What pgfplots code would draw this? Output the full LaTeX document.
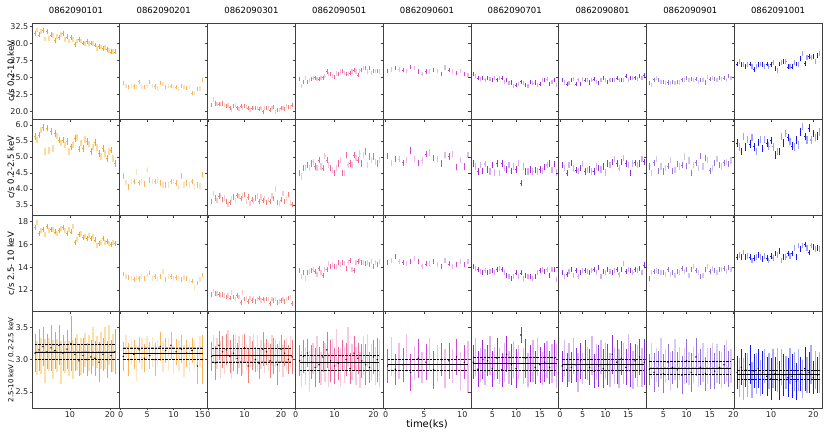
\documentclass[border=0pt]{standalone}
\usepackage{fontspec}
\setmainfont{DejaVu Sans}
\usepackage{pgfplots}
\usepackage{pgfplotstable}
\pgfplotsset{compat=1.18}

\definecolor{cA}{RGB}{255,165,0}
\definecolor{cB}{RGB}{250,180,90}
\definecolor{cC}{RGB}{240,128,120}
\definecolor{cD}{RGB}{240,100,160}
\definecolor{cE}{RGB}{210,70,210}
\definecolor{cF}{RGB}{165,40,220}
\definecolor{cG}{RGB}{140,50,225}
\definecolor{cH}{RGB}{147,112,219}
\definecolor{cI}{RGB}{20,20,255}

% vertical error bar of half-length = mark size, with a small horizontal tick
\pgfdeclareplotmark{eb}{%
  \pgfpathmoveto{\pgfqpoint{0pt}{-\pgfplotmarksize}}%
  \pgfpathlineto{\pgfqpoint{0pt}{\pgfplotmarksize}}%
  \pgfpathmoveto{\pgfqpoint{-0.7pt}{0pt}}%
  \pgfpathlineto{\pgfqpoint{0.7pt}{0pt}}%
  \pgfusepathqstroke}

% ---------------- data: t, rate 0.2-10, rate 0.2-2.5, rate 2.5-10, ratio, ratio error
\pgfplotstableread{
t r1 r2 r3 r4 e4
1.25 31.5 5.64 17.5 3.10 0.30
1.75 32.0 5.53 17.9 3.02 0.26
2.25 31.3 5.69 17.0 3.15 0.33
2.75 31.8 5.84 17.2 3.05 0.28
3.25 31.9 5.92 17.3 3.20 0.30
3.75 30.7 5.17 16.9 2.98 0.34
4.25 31.8 5.90 17.6 3.12 0.27
4.75 30.8 5.20 17.2 3.08 0.25
5.25 31.3 5.80 17.3 3.18 0.35
5.75 31.2 5.27 17.3 3.00 0.30
6.25 30.5 5.74 17.1 3.14 0.29
6.75 31.0 5.65 17.0 3.06 0.26
7.25 30.9 5.53 17.2 3.22 0.31
7.75 31.3 5.43 17.4 2.95 0.33
8.25 31.5 5.53 17.5 3.10 0.28
8.75 30.6 5.38 17.2 3.04 0.25
9.25 31.0 5.48 17.0 3.16 0.30
9.75 30.4 5.17 17.3 3.02 0.27
10.25 30.9 5.32 17.1 3.25 0.42
10.75 30.6 5.38 17.6 3.00 0.30
11.25 29.9 5.58 16.2 3.08 0.26
11.75 30.4 5.61 16.4 3.12 0.28
12.25 30.6 5.24 16.9 2.98 0.24
12.75 30.4 5.43 17.0 3.05 0.29
13.25 30.1 5.27 16.6 3.06 0.27
13.75 30.0 5.55 16.7 3.15 0.26
14.25 30.3 5.48 16.5 3.00 0.25
14.75 30.0 5.41 16.8 3.10 0.28
15.25 30.1 5.17 16.5 3.04 0.26
15.75 30.0 5.32 16.7 3.20 0.30
16.25 29.8 5.45 16.4 3.02 0.27
16.75 29.3 5.30 15.9 3.12 0.25
17.25 29.6 5.11 16.1 2.96 0.31
17.75 29.5 5.01 16.2 3.14 0.28
18.25 29.3 5.27 16.5 3.08 0.26
18.75 29.4 5.11 16.2 3.18 0.33
19.25 29.2 4.95 16.3 3.00 0.29
19.75 29.0 5.17 16.1 3.22 0.31
20.25 28.8 5.22 16.0 3.06 0.25
20.75 28.9 4.95 16.2 3.10 0.30
21.25 28.8 4.80 16.1 3.12 0.35
}\tA
\pgfplotstableread{
t r1 r2 r3 r4 e4
0.5 24.2 4.41 13.4 3.05 0.22
1.0 23.8 4.20 13.2 3.20 0.18
1.5 23.6 4.05 13.1 3.00 0.25
2.0 23.8 4.23 13.0 3.12 0.20
2.5 23.7 4.23 12.9 3.08 0.22
3.0 23.6 4.54 13.1 2.95 0.28
3.5 24.4 4.20 13.0 3.15 0.20
4.0 23.7 4.23 13.2 3.10 0.24
4.5 23.6 4.16 13.0 3.02 0.22
5.0 23.8 4.59 13.3 3.18 0.19
5.5 24.4 4.28 13.5 3.06 0.21
6.0 23.8 4.23 13.0 3.12 0.23
6.5 23.7 4.23 13.2 3.00 0.25
7.0 23.4 4.28 12.9 3.10 0.20
7.5 24.2 4.18 13.2 3.20 0.22
8.0 24.1 4.13 13.6 3.04 0.24
8.5 23.6 4.13 12.9 3.14 0.20
9.0 23.8 4.13 13.2 3.08 0.26
9.5 23.8 4.23 13.2 3.22 0.21
10.0 23.6 4.23 13.0 3.00 0.23
10.5 23.6 4.18 13.1 3.12 0.20
11.0 23.3 4.05 13.0 3.06 0.24
11.5 23.8 4.41 12.9 3.16 0.22
12.0 23.6 4.13 13.1 2.98 0.25
12.5 23.5 4.18 13.0 3.10 0.21
13.0 23.6 4.13 12.8 3.04 0.23
13.5 22.7 4.23 12.8 3.14 0.20
14.0 22.8 4.05 12.2 3.08 0.22
14.5 23.3 4.13 12.6 2.90 0.28
15.0 23.4 4.09 12.9 3.12 0.24
15.5 24.7 4.45 13.3 3.00 0.38
}\tB
\pgfplotstableread{
t r1 r2 r3 r4 e4
1.0 21.0 3.60 11.6 3.05 0.22
1.5 21.8 3.85 11.9 3.18 0.20
2.0 21.2 3.72 11.7 2.95 0.26
2.5 21.1 3.65 11.7 3.10 0.24
3.0 21.1 3.78 11.6 3.22 0.22
3.5 21.1 3.80 11.5 3.00 0.28
4.0 21.2 3.66 11.6 3.12 0.25
4.5 21.0 3.72 11.5 2.98 0.20
5.0 20.8 3.62 11.4 3.15 0.24
5.5 20.9 3.52 11.5 3.25 0.20
6.0 20.6 3.58 11.3 3.05 0.26
6.5 20.3 3.70 11.8 2.92 0.22
7.0 20.8 3.75 11.4 3.10 0.28
7.5 21.0 3.64 11.2 3.20 0.20
8.0 20.6 3.80 11.5 3.02 0.24
8.5 20.4 3.76 11.4 3.12 0.25
9.0 20.8 3.70 10.9 2.96 0.22
9.5 20.6 3.80 11.8 3.08 0.30
10.0 20.8 3.82 11.2 3.18 0.22
10.5 20.7 3.62 11.3 3.04 0.20
11.0 20.5 3.75 11.0 2.90 0.26
11.5 20.3 3.55 11.3 3.12 0.24
12.0 20.5 3.66 11.1 3.06 0.22
12.5 20.5 3.62 11.3 3.15 0.25
13.0 20.6 3.72 11.0 3.00 0.20
13.5 20.5 3.78 11.2 3.10 0.28
14.0 20.4 3.60 11.3 2.94 0.24
14.5 20.5 3.75 11.1 3.08 0.22
15.0 20.0 3.65 11.2 3.16 0.26
15.5 20.6 3.70 11.1 3.02 0.23
16.0 20.5 3.58 11.2 3.12 0.20
16.5 20.5 3.66 11.2 3.05 0.22
17.0 20.2 3.62 10.8 2.98 0.26
17.5 20.5 3.78 11.2 3.14 0.24
18.0 20.7 3.70 11.1 3.06 0.28
18.5 20.0 4.00 11.2 3.10 0.22
19.0 20.3 3.58 10.9 2.92 0.32
19.5 20.2 3.55 11.0 3.04 0.24
20.0 20.5 3.66 11.1 3.16 0.22
20.5 20.6 3.85 11.2 2.98 0.25
21.0 20.4 3.62 11.0 3.10 0.20
21.5 20.8 3.70 11.2 3.08 0.26
22.0 20.7 3.82 11.3 3.00 0.22
22.5 20.7 3.56 11.4 3.12 0.24
23.0 21.0 3.52 10.8 3.04 0.26
}\tC
\pgfplotstableread{
t r1 r2 r3 r4 e4
1.0 24.75 4.49 13.7 2.98 0.24
1.5 23.8 4.39 13.2 2.85 0.28
2.0 24.4 4.65 13.5 3.05 0.26
2.5 24.9 4.65 13.0 2.90 0.30
3.0 24.4 4.75 13.5 3.10 0.22
3.5 24.7 4.65 13.6 2.82 0.32
4.0 24.75 4.80 13.7 2.96 0.26
4.5 24.9 4.85 13.8 3.02 0.24
5.0 25.0 4.70 13.6 2.88 0.30
5.5 24.75 4.65 13.4 3.12 0.25
6.0 24.75 4.90 13.9 2.92 0.28
6.5 25.0 4.70 13.5 2.86 0.26
7.0 25.0 4.65 13.3 3.04 0.24
7.5 25.2 5.03 13.8 2.95 0.30
8.0 25.9 4.90 13.8 3.15 0.28
8.5 25.5 4.75 14.3 2.84 0.26
9.0 25.5 4.65 14.1 2.98 0.32
9.5 25.2 4.60 14.2 3.08 0.24
10.0 25.1 4.49 14.1 2.90 0.28
10.5 25.6 4.65 14.1 3.18 0.30
11.0 25.5 4.80 14.4 2.94 0.26
11.5 25.9 4.90 14.2 2.88 0.30
12.0 26.0 4.49 14.4 3.06 0.24
12.5 25.7 4.49 14.3 2.92 0.28
13.0 25.5 5.06 13.9 3.00 0.26
13.5 25.5 4.75 14.4 3.20 0.30
14.0 25.7 4.80 14.6 2.86 0.24
14.5 25.9 4.75 13.8 2.96 0.28
15.0 26.1 5.06 13.7 3.10 0.26
15.5 25.9 4.96 14.4 2.90 0.30
16.0 25.4 4.90 14.5 3.02 0.24
16.5 26.0 5.11 14.6 2.84 0.28
17.0 26.1 4.80 14.4 2.98 0.26
17.5 26.4 5.06 14.4 3.06 0.30
18.0 26.4 5.17 14.3 2.92 0.32
18.5 25.9 4.75 14.4 3.14 0.26
19.0 26.4 5.01 14.2 2.88 0.24
19.5 25.7 4.90 14.5 2.96 0.28
20.0 26.0 5.01 14.1 3.04 0.26
20.5 26.0 4.85 14.4 2.90 0.30
21.0 26.0 4.80 14.2 3.00 0.34
21.5 25.9 4.90 14.5 2.94 0.36
}\tD
\pgfplotstableread{
t r1 r2 r3 r4 e4
0.25 26.0 5.03 14.4 2.90 0.26
0.75 26.2 4.82 14.6 3.05 0.30
1.25 26.4 4.93 14.9 2.85 0.24
1.75 26.2 4.93 14.5 2.98 0.28
2.25 26.1 4.82 14.4 2.92 0.26
2.75 26.0 4.90 14.3 3.10 0.30
3.25 26.6 5.20 14.5 2.80 0.28
3.75 26.4 4.93 14.8 2.95 0.26
4.25 25.9 4.82 14.5 3.02 0.30
4.75 25.5 4.89 14.1 2.88 0.24
5.25 25.9 5.09 14.3 2.96 0.28
5.75 25.9 5.14 14.3 3.08 0.26
6.25 26.1 4.96 14.5 2.84 0.30
6.75 26.0 4.93 14.2 2.94 0.28
7.25 25.5 4.80 14.1 3.00 0.26
7.75 26.5 5.06 14.6 2.86 0.30
8.25 26.1 5.01 14.3 2.98 0.28
8.75 26.0 5.09 14.1 2.90 0.26
9.25 25.7 4.68 14.2 3.04 0.28
9.75 26.0 4.90 14.5 2.82 0.30
10.25 25.5 4.70 14.2 2.96 0.26
10.75 25.4 5.06 14.5 2.88 0.40
}\tE
\pgfplotstableread{
t r1 r2 r3 r4 e4
1.0 25.5 4.80 14.05 2.96 0.26
1.5 25.2 4.70 13.9 3.04 0.30
2.0 24.9 4.54 13.8 2.85 0.28
2.5 24.75 4.75 13.6 2.92 0.26
3.0 25.0 4.57 13.5 3.00 0.30
3.5 24.7 4.78 13.7 2.88 0.28
4.0 24.9 4.61 13.5 2.98 0.24
4.5 24.75 4.54 13.6 3.06 0.30
5.0 24.6 4.75 13.7 2.86 0.28
5.5 24.9 4.51 13.5 2.94 0.26
6.0 24.7 4.80 13.8 3.02 0.32
6.5 25.0 4.49 13.9 2.90 0.28
7.0 24.9 4.80 13.8 2.84 0.26
7.5 24.4 4.65 13.5 2.96 0.30
8.0 24.6 4.61 13.3 3.08 0.28
8.5 24.2 4.75 13.2 2.88 0.26
9.0 24.3 4.57 13.0 2.92 0.32
9.5 23.8 4.70 13.2 3.00 0.28
10.0 23.9 4.61 13.5 2.86 0.30
10.5 24.1 4.82 13.2 2.96 0.26
11.0 24.4 4.18 13.5 3.38 0.12
11.5 24.2 4.70 13.0 2.90 0.28
12.0 23.9 4.54 13.3 3.02 0.30
12.5 23.8 4.54 13.2 2.84 0.26
13.0 24.4 4.61 13.2 2.94 0.28
13.5 24.2 4.54 13.0 2.98 0.32
14.0 24.3 4.59 13.2 2.88 0.26
14.5 23.9 4.54 13.5 3.04 0.30
15.0 24.1 4.61 13.7 2.92 0.28
15.5 24.7 4.57 13.8 2.86 0.26
16.0 24.6 4.68 13.6 2.96 0.30
16.5 24.75 4.75 13.8 3.00 0.28
17.0 24.1 4.80 13.3 2.88 0.26
17.5 24.4 4.59 13.8 2.94 0.30
18.0 24.7 4.78 13.8 3.02 0.28
18.5 23.9 4.51 12.9 2.90 0.34
}\tF
\pgfplotstableread{
t r1 r2 r3 r4 e4
0.5 24.7 4.75 13.5 2.90 0.24
1.0 24.3 4.65 13.2 3.02 0.28
1.5 24.1 4.49 13.4 2.84 0.26
2.0 24.2 4.75 13.6 2.96 0.30
2.5 24.7 4.82 13.8 2.88 0.24
3.0 24.75 4.65 13.3 3.05 0.28
3.5 24.1 4.59 13.7 2.92 0.26
4.0 24.7 4.57 13.2 2.80 0.30
4.5 24.1 4.65 13.5 2.98 0.28
5.0 24.75 4.78 13.7 2.86 0.24
5.5 24.6 4.54 13.7 3.00 0.30
6.0 24.6 4.59 13.6 2.94 0.26
6.5 24.3 4.61 13.5 2.88 0.28
7.0 24.6 4.54 13.7 3.06 0.30
7.5 24.75 4.54 13.8 2.82 0.26
8.0 24.4 4.70 13.5 2.96 0.28
8.5 24.2 4.65 14.0 2.90 0.32
9.0 24.7 4.61 13.2 3.04 0.26
9.5 24.9 4.70 13.6 2.86 0.30
10.0 24.6 4.51 13.5 2.98 0.28
10.5 24.4 4.80 13.8 2.92 0.32
11.0 24.7 4.75 13.6 2.84 0.26
11.5 24.7 4.85 13.5 3.08 0.30
12.0 24.6 4.93 13.7 2.90 0.28
12.5 24.9 4.80 13.8 2.96 0.34
13.0 24.7 4.65 13.4 2.86 0.30
13.5 24.6 4.85 13.8 3.02 0.26
14.0 24.7 4.96 14.3 2.94 0.32
14.5 25.2 4.80 13.6 2.88 0.28
15.0 24.7 4.75 13.8 3.10 0.30
15.5 24.9 4.49 13.7 2.92 0.34
16.0 24.9 4.80 13.5 2.84 0.30
16.5 25.0 4.82 13.8 2.98 0.26
17.0 24.75 4.75 13.7 2.90 0.32
17.5 25.2 4.80 13.9 3.04 0.28
18.0 25.0 4.93 13.5 2.88 0.30
18.5 25.4 4.85 14.2 2.96 0.36
}\tG
\pgfplotstableread{
t r1 r2 r3 r4 e4
2.0 24.2 4.70 13.0 2.85 0.24
2.5 23.9 4.49 13.5 2.98 0.28
3.0 24.7 4.82 13.6 2.80 0.30
3.5 24.9 4.93 13.7 2.92 0.26
4.0 24.6 4.57 13.6 2.86 0.28
4.5 24.4 4.70 13.5 3.02 0.32
5.0 24.4 4.54 13.5 2.78 0.30
5.5 24.2 4.65 13.4 2.90 0.26
6.0 24.3 4.72 13.8 2.96 0.28
6.5 24.2 4.90 13.4 2.82 0.30
7.0 24.4 4.57 13.5 2.88 0.26
7.5 24.2 4.59 13.3 3.00 0.32
8.0 24.4 4.78 13.6 2.84 0.28
8.5 24.3 4.70 13.5 2.94 0.26
9.0 24.7 4.75 13.9 2.76 0.30
9.5 24.6 5.01 13.6 2.90 0.28
10.0 25.0 4.72 13.8 2.98 0.34
10.5 24.6 4.89 13.3 2.86 0.26
11.0 24.75 4.49 13.8 2.80 0.30
11.5 24.7 4.75 14.1 2.92 0.28
12.0 24.75 4.82 13.7 3.04 0.30
12.5 24.4 4.65 13.5 2.84 0.26
13.0 24.6 5.03 13.2 2.88 0.28
13.5 24.7 4.70 13.3 2.96 0.30
14.0 24.3 4.96 13.8 2.78 0.26
14.5 25.1 4.90 14.1 2.90 0.28
15.0 24.75 4.57 13.6 2.86 0.32
15.5 24.9 4.65 13.9 3.00 0.26
16.0 24.75 4.82 13.7 2.82 0.28
16.5 24.6 4.93 13.5 2.94 0.30
17.0 24.9 4.75 13.8 2.88 0.26
17.5 24.75 4.70 13.8 2.84 0.28
18.0 24.9 4.82 13.9 2.92 0.30
18.5 24.6 4.85 13.6 2.98 0.32
19.0 25.2 4.78 14.0 2.86 0.28
19.5 25.0 4.89 13.8 2.90 0.26
}\tH
\pgfplotstableread{
t r1 r2 r3 r4 e4
2.0 27.0 5.43 14.9 2.80 0.26
2.5 27.4 5.32 15.1 2.72 0.30
3.0 26.9 5.17 14.9 2.88 0.28
3.5 26.9 5.64 15.3 2.70 0.32
4.0 26.7 5.32 14.9 2.84 0.26
4.5 26.9 5.55 15.0 2.76 0.34
5.0 27.0 5.41 14.9 2.92 0.30
5.5 26.7 5.61 14.6 2.68 0.28
6.0 26.2 5.32 14.8 2.82 0.26
6.5 26.7 5.17 14.9 2.78 0.32
7.0 26.9 5.45 15.1 2.86 0.30
7.5 27.0 5.55 14.9 2.72 0.28
8.0 26.9 5.27 14.7 2.80 0.34
8.5 26.7 5.55 15.0 2.90 0.26
9.0 27.0 5.43 14.8 2.74 0.30
9.5 26.6 5.34 14.6 2.82 0.28
10.0 26.9 5.51 15.0 2.70 0.32
10.5 27.2 5.32 14.8 2.86 0.30
11.0 26.4 5.06 15.2 2.78 0.26
11.5 26.1 5.17 15.1 2.84 0.34
12.0 27.0 5.17 15.4 2.68 0.30
12.5 27.2 5.64 14.6 2.88 0.28
13.0 27.4 5.43 14.9 2.76 0.32
13.5 27.4 5.74 14.9 2.80 0.26
14.0 26.6 5.61 15.2 2.72 0.30
14.5 26.6 5.48 15.0 2.90 0.28
15.0 26.6 5.34 15.2 2.74 0.34
15.5 27.2 5.32 15.7 2.82 0.30
16.0 27.0 5.53 14.9 2.66 0.28
16.5 26.9 5.38 15.9 2.84 0.32
17.0 27.8 5.79 15.6 2.78 0.26
17.5 28.5 5.95 15.9 2.70 0.30
18.0 27.1 5.64 16.0 2.86 0.34
18.5 28.0 5.53 15.7 2.76 0.28
19.0 28.1 5.90 15.3 2.80 0.32
19.5 28.0 5.53 15.9 2.92 0.30
20.0 28.1 5.74 15.8 2.72 0.26
20.5 27.4 5.61 15.6 2.84 0.30
21.0 28.3 5.66 15.7 2.76 0.28
21.5 28.5 5.79 15.6 2.80 0.32
}\tI

\pgfplotsset{
  P/.style={scale only axis, width=87.78pt, height=96.25pt, anchor=south west,
    axis line style={black!75, line width=0.6pt},
    every tick/.style={black!75, line width=0.5pt},
    major tick length=2.5pt, tick align=outside,
    xtick pos=left, ytick pos=left,
    /pgf/number format/assume math mode=true,
    ticklabel style={font=\fontsize{8}{9}\selectfont, text=black!85},
    xticklabel style={inner sep=1pt}, yticklabel style={inner sep=1pt},
    title style={font=\fontsize{8.5}{10}\selectfont, at={(0.5,1)}, anchor=south, yshift=3pt, inner sep=0.5pt},
    ylabel style={font=\fontsize{8.5}{10}\selectfont, at={(axis description cs:-0.239,0.5)}, anchor=center},
  },
  F1/.style={/pgf/number format/.cd, fixed, fixed zerofill, precision=1},
  R1/.style={ymin=18.89, ymax=33.04, ytick={20,22.5,25,27.5,30,32.5}, yticklabel style={F1}, xticklabels={}},
  R2/.style={ymin=3.17, ymax=6.18, ytick={3.5,4,4.5,5,5.5,6}, yticklabel style={F1}, xticklabels={}},
  R3/.style={ymin=10.09, ymax=18.54, ytick={12,14,16,18}, xticklabels={}},
  R4/.style={ymin=2.25, ymax=3.74, ytick={2.5,3,3.5}, yticklabel style={F1}},
  C1/.style={xmin=0.5, xmax=22.45, xtick={10,20}},
  C2/.style={xmin=-0.17, xmax=16.44, xtick={0,5,10,15}, yticklabels={}},
  C3/.style={xmin=-0.1, xmax=23.9, xtick={0,10,20}, yticklabels={}},
  C4/.style={xmin=-0.1, xmax=22.5, xtick={0,10,20}, yticklabels={}},
  C5/.style={xmin=-0.34, xmax=11.12, xtick={0,5,10}, yticklabels={}},
  C6/.style={xmin=0.51, xmax=18.92, xtick={5,10,15}, yticklabels={}},
  C7/.style={xmin=-0.29, xmax=19.0, xtick={0,5,10,15}, yticklabels={}},
  C8/.style={xmin=1.38, xmax=20.2, xtick={5,10,15,20}, yticklabels={}},
  C9/.style={xmin=1.3, xmax=22.06, xtick={10,20}, yticklabels={}},
  gl/.style={gray!60, line width=1.3pt, dash pattern=on 2.5pt off 1pt},
  bl/.style={black, line width=0.6pt},
  bd/.style={black, line width=0.6pt, dash pattern=on 2.5pt off 1pt},
}

% light-curve panel: table, column, colour, half error bar (pt)
\newcommand\pts[4]{%
  \addplot[only marks, mark=eb, mark size=#4, mark options={draw=#3!40, line width=1.2pt},
    restrict expr to domain={mod(\coordindex,2)}{0.5:1.5}]
    table[x=t, y=#2] {#1};
  \addplot[only marks, mark=eb, mark size=#4, mark options={draw=#3, line width=0.55pt},
    restrict expr to domain={mod(\coordindex,2)}{-0.5:0.5}]
    table[x=t, y=#2] {#1};
}
% ratio panel: table, colour
\newcommand\rat[2]{%
  \addplot[draw=none, mark=none,
    restrict expr to domain={mod(\coordindex,2)}{0.5:1.5},
    error bars/.cd, y dir=both, y explicit, error mark=none,
    error bar style={solid, line width=1.4pt, draw=#2!35}]
    table[x=t, y=r4, y error=e4] {#1};
  \addplot[draw=none, mark=*, mark size=0.5pt, mark options={draw=none, fill=#2},
    restrict expr to domain={mod(\coordindex,2)}{-0.5:0.5},
    error bars/.cd, y dir=both, y explicit, error mark=none,
    error bar style={solid, line width=0.55pt, draw=#2}]
    table[x=t, y=r4, y error=e4] {#1};
}
% horizontal line: t0, t1, level, style
\newcommand\hl[4]{\addplot[#4] coordinates {(#1,#3) (#2,#3)};}
% mean and +-sigma lines: t0, t1, low, mean, high
\newcommand\ml[5]{\hl{#1}{#2}{#4}{bl}\hl{#1}{#2}{#3}{bd}\hl{#1}{#2}{#5}{bd}}

\begin{document}
\begin{tikzpicture}
\path[use as bounding box] (0pt,0pt) rectangle (831pt,435pt);

% ---------- row 1
\begin{axis}[P,R1,C1,at={(32pt,315.75pt)},title=0862090101,ylabel={c/s 0.2-10 keV}]\pts{\tA}{r1}{cA}{2.4pt}\end{axis}
\begin{axis}[P,R1,C2,at={(119.78pt,315.75pt)},title=0862090201]\pts{\tB}{r1}{cB}{2.1pt}\end{axis}
\begin{axis}[P,R1,C3,at={(207.56pt,315.75pt)},title=0862090301]\pts{\tC}{r1}{cC}{2.1pt}\end{axis}
\begin{axis}[P,R1,C4,at={(295.33pt,315.75pt)},title=0862090501]\pts{\tD}{r1}{cD}{2.1pt}\end{axis}
\begin{axis}[P,R1,C5,at={(383.11pt,315.75pt)},title=0862090601]\pts{\tE}{r1}{cE}{2.1pt}\end{axis}
\begin{axis}[P,R1,C6,at={(470.89pt,315.75pt)},title=0862090701]\pts{\tF}{r1}{cF}{2.1pt}\end{axis}
\begin{axis}[P,R1,C7,at={(558.67pt,315.75pt)},title=0862090801]\pts{\tG}{r1}{cG}{2.1pt}\end{axis}
\begin{axis}[P,R1,C8,at={(646.44pt,315.75pt)},title=0862090901]\pts{\tH}{r1}{cH}{2.1pt}\end{axis}
\begin{axis}[P,R1,C9,at={(734.22pt,315.75pt)},title=0862091001]\pts{\tI}{r1}{cI}{2.4pt}\end{axis}

% ---------- row 2
\begin{axis}[P,R2,C1,at={(32pt,219.5pt)},ylabel={c/s 0.2-2.5 keV}]\pts{\tA}{r2}{cA}{3.2pt}\end{axis}
\begin{axis}[P,R2,C2,at={(119.78pt,219.5pt)}]\pts{\tB}{r2}{cB}{2.9pt}\end{axis}
\begin{axis}[P,R2,C3,at={(207.56pt,219.5pt)}]\pts{\tC}{r2}{cC}{2.6pt}\end{axis}
\begin{axis}[P,R2,C4,at={(295.33pt,219.5pt)}]\pts{\tD}{r2}{cD}{3.2pt}\end{axis}
\begin{axis}[P,R2,C5,at={(383.11pt,219.5pt)}]\pts{\tE}{r2}{cE}{3.2pt}\end{axis}
\begin{axis}[P,R2,C6,at={(470.89pt,219.5pt)}]\pts{\tF}{r2}{cF}{3.2pt}\end{axis}
\begin{axis}[P,R2,C7,at={(558.67pt,219.5pt)}]\pts{\tG}{r2}{cG}{3.2pt}\end{axis}
\begin{axis}[P,R2,C8,at={(646.44pt,219.5pt)}]\pts{\tH}{r2}{cH}{3.2pt}\end{axis}
\begin{axis}[P,R2,C9,at={(734.22pt,219.5pt)}]\pts{\tI}{r2}{cI}{3.8pt}\end{axis}

% ---------- row 3
\begin{axis}[P,R3,C1,at={(32pt,123.25pt)},ylabel={c/s 2.5- 10 keV}]\pts{\tA}{r3}{cA}{2.5pt}\end{axis}
\begin{axis}[P,R3,C2,at={(119.78pt,123.25pt)}]\pts{\tB}{r3}{cB}{2.3pt}\end{axis}
\begin{axis}[P,R3,C3,at={(207.56pt,123.25pt)}]\pts{\tC}{r3}{cC}{2.3pt}\end{axis}
\begin{axis}[P,R3,C4,at={(295.33pt,123.25pt)}]\pts{\tD}{r3}{cD}{2.5pt}\end{axis}
\begin{axis}[P,R3,C5,at={(383.11pt,123.25pt)}]\pts{\tE}{r3}{cE}{2.5pt}\end{axis}
\begin{axis}[P,R3,C6,at={(470.89pt,123.25pt)}]\pts{\tF}{r3}{cF}{2.5pt}\end{axis}
\begin{axis}[P,R3,C7,at={(558.67pt,123.25pt)}]\pts{\tG}{r3}{cG}{2.5pt}\end{axis}
\begin{axis}[P,R3,C8,at={(646.44pt,123.25pt)}]\pts{\tH}{r3}{cH}{2.5pt}\end{axis}
\begin{axis}[P,R3,C9,at={(734.22pt,123.25pt)}]\pts{\tI}{r3}{cI}{2.85pt}\end{axis}

% ---------- row 4
\begin{axis}[P,R4,C1,at={(32pt,27pt)},ylabel={2.5-10 keV / 0.2-2.5 keV},ylabel style={font=\fontsize{7}{8}\selectfont}]
\rat{\tA}{cA}
\hl{1.25}{21.25}{3.23}{gl}\hl{1.25}{21.25}{3.12}{gl}\hl{1.25}{21.25}{3.00}{gl}
\ml{1.25}{21.25}{3.00}{3.11}{3.23}
\end{axis}
\begin{axis}[P,R4,C2,at={(119.78pt,27pt)}]
\rat{\tB}{cB}
\hl{0.5}{15.5}{3.18}{gl}
\ml{0.5}{15.5}{3.00}{3.09}{3.18}
\end{axis}
\begin{axis}[P,R4,C3,at={(207.56pt,27pt)}]
\rat{\tC}{cC}
\hl{1}{23}{2.96}{gl}
\ml{1}{23}{2.96}{3.06}{3.17}
\end{axis}
\begin{axis}[P,R4,C4,at={(295.33pt,27pt)}]
\rat{\tD}{cD}
\hl{1}{21.5}{3.06}{gl}
\ml{1}{21.5}{2.84}{2.95}{3.06}
\end{axis}
\begin{axis}[P,R4,C5,at={(383.11pt,27pt)}]
\rat{\tE}{cE}
\ml{0.25}{10.75}{2.84}{2.92}{3.00}
\end{axis}
\begin{axis}[P,R4,C6,at={(470.89pt,27pt)}]
\rat{\tF}{cF}
\hl{1}{18.5}{3.03}{gl}\hl{1}{18.5}{2.94}{gl}
\ml{1}{18.5}{2.84}{2.94}{3.03}
\end{axis}
\begin{axis}[P,R4,C7,at={(558.67pt,27pt)}]
\rat{\tG}{cG}
\hl{0.5}{18.5}{2.83}{gl}
\ml{0.5}{18.5}{2.83}{2.92}{3.00}
\end{axis}
\begin{axis}[P,R4,C8,at={(646.44pt,27pt)}]
\rat{\tH}{cH}
\hl{2}{19.5}{2.97}{gl}\hl{2}{19.5}{2.87}{gl}
\ml{2}{19.5}{2.77}{2.87}{2.97}
\end{axis}
\begin{axis}[P,R4,C9,at={(734.22pt,27pt)}]
\rat{\tI}{cI}
\ml{2}{21.5}{2.69}{2.77}{2.84}
\end{axis}

\node[font=\fontsize{10}{12}\selectfont] at (427pt,11pt) {time(ks)};
\end{tikzpicture}
\end{document}
